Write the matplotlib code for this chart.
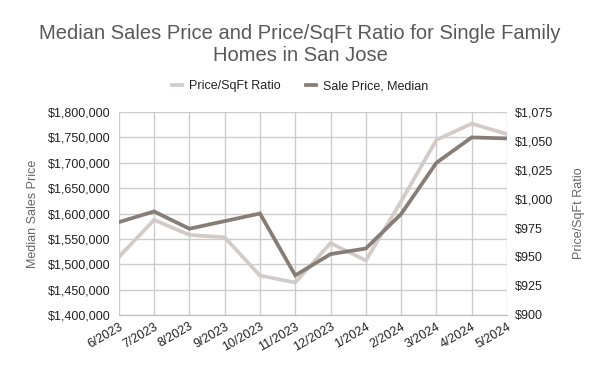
import matplotlib.pyplot as plt
from matplotlib.ticker import FuncFormatter, FixedLocator

plt.rcParams['font.family'] = ['Liberation Sans', 'DejaVu Sans']

months = ['6/2023', '7/2023', '8/2023', '9/2023', '10/2023', '11/2023',
          '12/2023', '1/2024', '2/2024', '3/2024', '4/2024', '5/2024']
sale_price = [1583000, 1604000, 1570000, 1585000, 1600000, 1478000,
              1520000, 1531000, 1599000, 1700000, 1750000, 1748000]
price_sqft = [950, 982, 969, 967, 934, 928,
              962, 947, 998, 1051, 1065, 1056]

dark = '#877d77'
light = '#d3cbc8'

fig = plt.figure(figsize=(6, 3.71), dpi=100)
ax = fig.add_axes([0.198, 0.151, 0.647, 0.547])
ax2 = ax.twinx()

x = list(range(len(months)))
l1, = ax2.plot(x, price_sqft, color=light, lw=2.7, solid_joinstyle='miter', zorder=2)
l2, = ax.plot(x, sale_price, color=dark, lw=2.7, solid_joinstyle='miter', zorder=3)
ax.set_zorder(ax2.get_zorder() + 1)
ax.patch.set_visible(False)

ax.set_xlim(0, len(months) - 1)
ax.set_ylim(1400000, 1800000)
ax.yaxis.set_major_locator(FixedLocator(range(1400000, 1800001, 50000)))
ax.yaxis.set_major_formatter(FuncFormatter(lambda v, p: '${:,.0f}'.format(v)))
ax2.set_ylim(900, 1075)
ax2.yaxis.set_major_locator(FixedLocator(range(900, 1076, 25)))
ax2.yaxis.set_major_formatter(FuncFormatter(lambda v, p: '${:,.0f}'.format(v)))

ax.set_xticks(x)
ax.set_xticklabels(months, rotation=30, ha='right', rotation_mode='anchor')
ax.grid(True, color='#cccccc', lw=1)
ax.set_axisbelow(True)

for a in (ax, ax2):
    for s in a.spines.values():
        s.set_visible(False)
    a.tick_params(length=0, labelsize=9, colors='#222222')
ax.spines['bottom'].set_visible(True)
ax.spines['bottom'].set_color('#bbbbbb')
ax.tick_params(axis='y', pad=6)
ax2.tick_params(axis='y', pad=6)
ax.tick_params(axis='x', pad=4)

ax.set_ylabel('Median Sales Price', color='#666666', fontsize=9, labelpad=6)
ax2.set_ylabel('Price/SqFt Ratio', color='#666666', fontsize=9, labelpad=14)

fig.suptitle('Median Sales Price and Price/SqFt Ratio for Single Family\nHomes in San Jose',
             x=0.5, y=0.935, fontsize=14.5, color='#595959', linespacing=1.2)

fig.legend([l1, l2], ['Price/SqFt Ratio', 'Sale Price, Median'], loc='center',
           bbox_to_anchor=(0.5, 0.768), ncol=2, frameon=False, fontsize=9,
           handlelength=0.8, handletextpad=0.6, columnspacing=2.0,
           labelcolor='#222222')

plt.savefig('out.png', dpi=100)
